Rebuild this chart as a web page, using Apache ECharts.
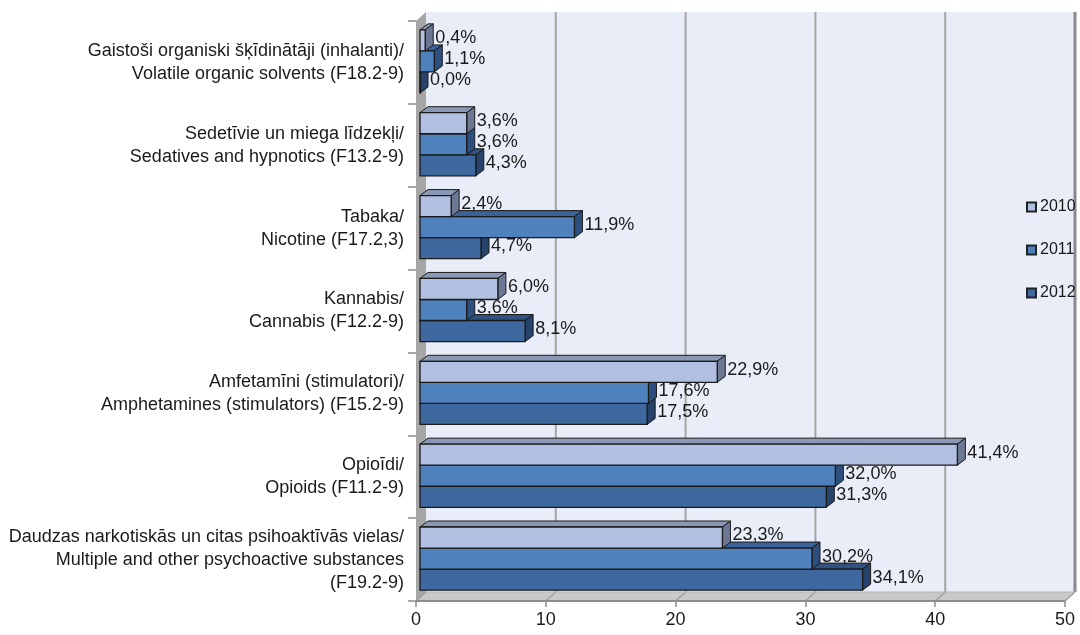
<!DOCTYPE html>
<html>
<head>
<meta charset="utf-8">
<script src="https://cdn.jsdelivr.net/npm/echarts@6/dist/echarts.min.js"></script>
<style>html,body{margin:0;padding:0;background:#fff}#c{width:1080px;height:635px}</style>
</head>
<body>
<div id="c"></div>
<script>
const categories = [
  'Gaistoši organiski šķīdinātāji (inhalanti)/\nVolatile organic solvents (F18.2-9)',
  'Sedetīvie un miega līdzekļi/\nSedatives and hypnotics (F13.2-9)',
  'Tabaka/\nNicotine (F17.2,3)',
  'Kannabis/\nCannabis (F12.2-9)',
  'Amfetamīni (stimulatori)/\nAmphetamines (stimulators) (F15.2-9)',
  'Opioīdi/\nOpioids (F11.2-9)',
  'Daudzas narkotiskās un citas psihoaktīvās vielas/\nMultiple and other psychoactive substances\n(F19.2-9)'
];
const seriesNames = ['2010', '2011', '2012'];
const v2010 = [0.4, 3.6, 2.4, 6.0, 22.9, 41.4, 23.3];
const v2011 = [1.1, 3.6, 11.9, 3.6, 17.6, 32.0, 30.2];
const v2012 = [0.0, 4.3, 4.7, 8.1, 17.5, 31.3, 34.1];
const xTicks = [0, 10, 20, 30, 40, 50];

const FONT = 'Liberation Sans, Arial, sans-serif';
const palette = [
  {front: '#b1c0e1', top: '#8a98b6', side: '#6c7893'},
  {front: '#4f81bd', top: '#3b6399', side: '#2d4f7e'},
  {front: '#3e689e', top: '#2f5281', side: '#27436b'}
];
const WDX = 10, WDY = -9;   // wall depth
const BDX = 8, BDY = -6;    // bar depth

function fmt(v) { return v.toFixed(1).replace('.', ',') + '%'; }

function wallRender(params, api) {
  const cs = params.coordSys;
  const L = cs.x, T = cs.y, R = cs.x + cs.width, B = cs.y + cs.height;
  const kids = [];
  kids.push({type: 'rect', shape: {x: L + WDX, y: T + WDY, width: cs.width, height: cs.height},
    style: {fill: '#e9edf7'}});
  const last = xTicks[xTicks.length - 1];
  xTicks.forEach(t => {
    const x = api.coord([t, 0])[0];
    if (t > 0) {
      kids.push({type: 'line', shape: {x1: x + WDX, y1: T + WDY, x2: x + WDX, y2: B + WDY},
        style: {stroke: t === last ? '#8a8a8a' : '#a6a6a6', lineWidth: t === last ? 3 : 2}});
    }
  });
  kids.push({type: 'polygon', shape: {points: [[L, T], [L + WDX, T + WDY], [L + WDX, B + WDY], [L, B]]},
    style: {fill: '#a6a6a6'}});
  kids.push({type: 'polygon', shape: {points: [[L, B], [L + WDX, B + WDY], [R + WDX, B + WDY], [R, B]]},
    style: {fill: '#c9c9c9'}});
  xTicks.forEach(t => {
    const x = api.coord([t, 0])[0];
    kids.push({type: 'line', shape: {x1: x, y1: B, x2: x + WDX, y2: B + WDY},
      style: {stroke: '#a0a0a0', lineWidth: 1.5}});
  });
  kids.push({type: 'line', shape: {x1: L + WDX, y1: B + WDY, x2: R + WDX, y2: B + WDY},
    style: {stroke: '#b5b5b5', lineWidth: 1}});
  kids.push({type: 'line', shape: {x1: L, y1: B, x2: R, y2: B},
    style: {stroke: '#8c8c8c', lineWidth: 2}});
  return {type: 'group', children: kids};
}

function barRenderer(si) {
  const col = palette[si];
  return function (params, api) {
    const v = api.value(0), c = api.value(1);
    const pc = api.coord([v, c]);
    const p0 = api.coord([0, c]);
    const band = api.size([0, 1])[1];
    const h = band * 0.254;
    const yTop = pc[1] - 1.5 * h + si * h - 1;
    const x0 = p0[0] + 4, x1 = pc[0] + 4;
    const st = '#1a1a1a';
    return {type: 'group', children: [
      {type: 'polygon', shape: {points: [[x0, yTop], [x0 + BDX, yTop + BDY], [x1 + BDX, yTop + BDY], [x1, yTop]]},
        style: {fill: col.top, stroke: st, lineWidth: 1}},
      {type: 'polygon', shape: {points: [[x1, yTop], [x1 + BDX, yTop + BDY], [x1 + BDX, yTop + h + BDY], [x1, yTop + h]]},
        style: {fill: col.side, stroke: st, lineWidth: 1}},
      {type: 'rect', shape: {x: x0, y: yTop, width: Math.max(x1 - x0, 0.5), height: h},
        style: {fill: col.front, stroke: st, lineWidth: 1.3}},
      {type: 'text', x: x1 + BDX + 2, y: yTop + h / 2 - 2,
        style: {text: fmt(v), fill: '#1a1a1a', font: '18px ' + FONT, verticalAlign: 'middle', align: 'left'}}
    ]};
  };
}

const seriesData = [v2010, v2011, v2012];
const series = [{
  type: 'custom', name: 'walls', renderItem: wallRender, data: [[0, 0]],
  encode: {x: 0, y: 1}, z: 1, silent: true, legendHoverLink: false
}];
seriesData.forEach((arr, si) => {
  series.push({
    type: 'custom', name: seriesNames[si], renderItem: barRenderer(si),
    data: arr.map((v, i) => [v, i]), encode: {x: 0, y: 1},
    z: 10 - si,
    itemStyle: {color: palette[si].front, borderColor: '#222', borderWidth: 1}
  });
});

const chart = echarts.init(document.getElementById('c'), null, {renderer: 'canvas'});
chart.setOption({
  animation: false,
  backgroundColor: '#ffffff',
  textStyle: {fontFamily: FONT},
  grid: {left: 416, right: 15, top: 21, bottom: 34, containLabel: false},
  legend: {
    data: seriesNames, orient: 'vertical', left: 1021, top: 193,
    icon: 'rect', itemWidth: 9, itemHeight: 9, itemGap: 25,
    textStyle: {fontFamily: FONT, fontSize: 16, lineHeight: 18, color: '#1a1a1a', padding: [0, 0, 0, -1]}
  },
  xAxis: {
    type: 'value', min: 0, max: 50, interval: 10,
    axisLine: {show: false},
    axisTick: {show: true, length: 6, lineStyle: {color: '#8c8c8c', width: 1.5}},
    splitLine: {show: false},
    axisLabel: {fontFamily: FONT, fontSize: 18, color: '#1a1a1a', margin: 10}
  },
  yAxis: {
    type: 'category', data: categories, inverse: true,
    axisLine: {show: true, lineStyle: {color: '#8c8c8c', width: 1}},
    axisTick: {show: true, length: 8, lineStyle: {color: '#8c8c8c', width: 1.5}},
    axisLabel: {fontFamily: FONT, fontSize: 18, color: '#1a1a1a', lineHeight: 23, margin: 12, align: 'right'}
  },
  series: series
});
</script>
</body>
</html>
